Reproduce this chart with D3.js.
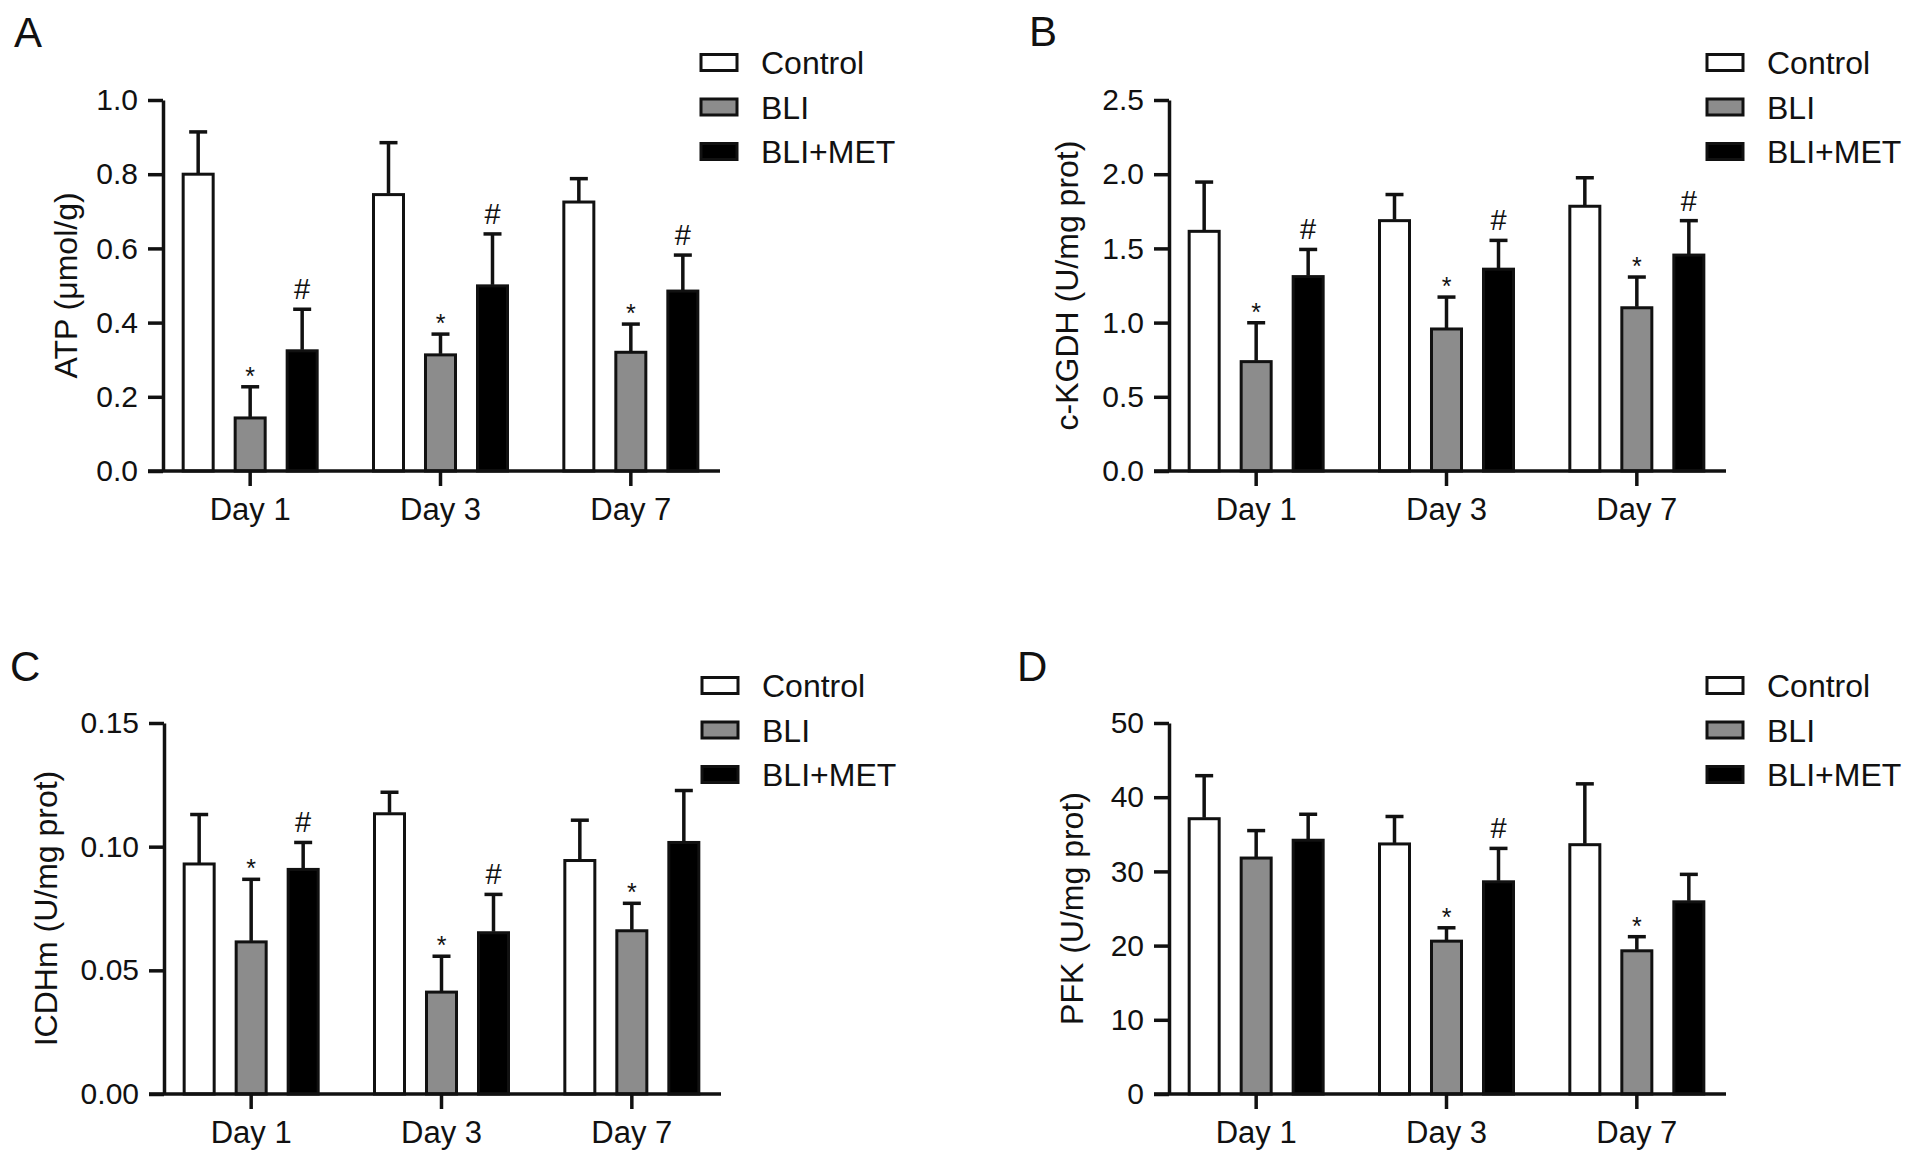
<!DOCTYPE html>
<html>
<head>
<meta charset="utf-8">
<script src="https://cdn.jsdelivr.net/npm/d3@7"></script>
<style>
  body { margin: 0; background: #fff; }
  svg text { font-family: "Liberation Sans", Arial, Helvetica, sans-serif; fill: #111; }
</style>
</head>
<body>
<div class="canvas"></div>
<script>
// categories
const days = ['Day 1', 'Day 3', 'Day 7'];
const groups = ['Control', 'BLI', 'BLI+MET'];
const fills = ['#ffffff', '#8c8c8c', '#000000'];

// A - ATP (rows: Control, BLI, BLI+MET ; cols: day 1, 3, 7)
const atpMeans = [[0.80, 0.745, 0.725], [0.143, 0.313, 0.32], [0.324, 0.499, 0.485]];
const atpErrs = [[0.114, 0.14, 0.063], [0.084, 0.056, 0.076], [0.112, 0.14, 0.097]];
const atpMarks = [['', '', ''], ['*', '*', '*'], ['#', '#', '#']];
const atpTicks = [0, 0.2, 0.4, 0.6, 0.8, 1.0];

// B - c-KGDH
const kgdhMeans = [[1.615, 1.687, 1.784], [0.737, 0.957, 1.10], [1.31, 1.36, 1.455]];
const kgdhErrs = [[0.332, 0.176, 0.192], [0.262, 0.215, 0.207], [0.183, 0.194, 0.232]];
const kgdhMarks = [['', '', ''], ['*', '*', '*'], ['#', '#', '#']];
const kgdhTicks = [0, 0.5, 1.0, 1.5, 2.0, 2.5];

// C - ICDHm
const icdhMeans = [[0.093, 0.1133, 0.0944], [0.0615, 0.0412, 0.066], [0.0908, 0.0652, 0.1017]];
const icdhErrs = [[0.020, 0.0087, 0.0163], [0.0253, 0.0145, 0.0111], [0.0109, 0.0155, 0.021]];
const icdhMarks = [['', '', ''], ['*', '*', '*'], ['#', '#', '']];
const icdhTicks = [0, 0.05, 0.10, 0.15];

// D - PFK
const pfkMeans = [[37.1, 33.7, 33.6], [31.8, 20.6, 19.3], [34.2, 28.6, 25.9]];
const pfkErrs = [[5.8, 3.7, 8.2], [3.7, 1.8, 1.9], [3.5, 4.5, 3.7]];
const pfkMarks = [['', '', ''], ['', '*', '*'], ['', '#', '']];
const pfkTicks = [0, 10, 20, 30, 40, 50];

const plotH = 371;

const svg = d3.select('.canvas')
    .append('svg')
    .attr('width', 1913)
    .attr('height', 1162);

const drawPanel = (p) => {

    const g = svg.append('g')
        .attr('transform', `translate(${p.ox}, ${p.oy})`);

    const y = d3.scaleLinear()
        .domain([0, p.ticks[p.ticks.length - 1]])
        .range([plotH, 0]);

    // outer band = day groups, inner band = series inside a group
    const x0 = d3.scaleBand().domain(days).range([-8, 563]);
    const x1 = d3.scaleBand().domain(groups).range([-78, 78])
        .paddingInner(0.423).paddingOuter(0.2115);
    const cx = (di, gi) => x0(days[di]) + x0.bandwidth() / 2 + x1(groups[gi]) + x1.bandwidth() / 2;

    // panel letter
    svg.append('text')
        .attr('x', p.lx).attr('y', p.ly)
        .attr('font-size', 42)
        .text(p.letter);

    // y axis
    const yAxis = g.append('g')
        .call(d3.axisLeft(y)
            .tickValues(p.ticks)
            .tickFormat(d3.format(p.fmt))
            .tickSize(15)
            .tickSizeOuter(0)
            .tickPadding(10));
    yAxis.selectAll('path, line').attr('stroke', '#111').attr('stroke-width', 3.5);
    yAxis.selectAll('text').attr('font-size', 30).attr('fill', '#111')
        .attr('font-family', '"Liberation Sans", Arial, sans-serif');

    g.append('text')
        .attr('transform', `translate(${-p.labelOff}, ${plotH / 2}) rotate(-90)`)
        .attr('text-anchor', 'middle')
        .attr('dominant-baseline', 'central')
        .attr('font-size', 32)
        .text(p.yLabel);

    // bars
    const flat = [];
    p.means.forEach((row, gi) => row.forEach((v, di) => {
        flat.push({ gi, di, v, e: p.errs[gi][di], m: p.marks[gi][di] });
    }));

    g.selectAll('rect.bar')
        .data(flat)
        .enter()
        .append('rect')
        .attr('class', 'bar')
        .attr('x', d => cx(d.di, d.gi) - x1.bandwidth() / 2)
        .attr('y', d => y(d.v))
        .attr('width', x1.bandwidth())
        .attr('height', d => plotH - y(d.v))
        .attr('fill', d => fills[d.gi])
        .attr('stroke', '#111')
        .attr('stroke-width', 3);

    // error bars (upper half only)
    const err = g.selectAll('g.err')
        .data(flat)
        .enter()
        .append('g')
        .attr('class', 'err')
        .attr('stroke', '#111')
        .attr('stroke-width', 3.5);
    err.append('line')
        .attr('x1', d => cx(d.di, d.gi)).attr('x2', d => cx(d.di, d.gi))
        .attr('y1', d => y(d.v) - 1).attr('y2', d => y(d.v + d.e));
    err.append('line')
        .attr('x1', d => cx(d.di, d.gi) - 9).attr('x2', d => cx(d.di, d.gi) + 9)
        .attr('y1', d => y(d.v + d.e)).attr('y2', d => y(d.v + d.e));

    // significance marks
    g.selectAll('text.mark')
        .data(flat.filter(d => d.m !== ''))
        .enter()
        .append('text')
        .attr('class', 'mark')
        .attr('x', d => cx(d.di, d.gi))
        .attr('y', d => y(d.v + d.e) - (d.m === '#' ? 10 : 2))
        .attr('text-anchor', 'middle')
        .attr('font-size', d => d.m === '#' ? 29 : 25)
        .text(d => d.m);

    // x axis
    const xAxis = g.append('g')
        .attr('transform', `translate(0, ${plotH})`)
        .call(d3.axisBottom(x0).tickSize(15).tickPadding(12));
    xAxis.select('.domain').remove();
    xAxis.selectAll('line').attr('stroke', '#111').attr('stroke-width', 3.5);
    xAxis.selectAll('text').attr('font-size', 31).attr('fill', '#111')
        .attr('font-family', '"Liberation Sans", Arial, sans-serif');
    g.append('line')
        .attr('x1', -15).attr('x2', 557)
        .attr('y1', plotH).attr('y2', plotH)
        .attr('stroke', '#111').attr('stroke-width', 3.5);

    // legend
    const leg = g.selectAll('g.leg')
        .data(groups)
        .enter()
        .append('g')
        .attr('class', 'leg')
        .attr('transform', (d, i) => `translate(538, ${-37.5 + i * 44.5})`);
    leg.append('rect')
        .attr('x', 0).attr('y', -8)
        .attr('width', 36).attr('height', 16)
        .attr('fill', (d, i) => fills[i])
        .attr('stroke', '#111').attr('stroke-width', 3);
    leg.append('text')
        .attr('x', 60).attr('y', 11.5)
        .attr('font-size', 32)
        .text(d => d);
};

drawPanel({ ox: 163, oy: 100, letter: 'A', lx: 14, ly: 47, yLabel: 'ATP (μmol/g)', labelOff: 97,
    ticks: atpTicks, fmt: '.1f', means: atpMeans, errs: atpErrs, marks: atpMarks });
drawPanel({ ox: 1169, oy: 100, letter: 'B', lx: 1029, ly: 46, yLabel: 'c-KGDH (U/mg prot)', labelOff: 102,
    ticks: kgdhTicks, fmt: '.1f', means: kgdhMeans, errs: kgdhErrs, marks: kgdhMarks });
drawPanel({ ox: 164, oy: 723, letter: 'C', lx: 10, ly: 681, yLabel: 'ICDHm (U/mg prot)', labelOff: 118,
    ticks: icdhTicks, fmt: '.2f', means: icdhMeans, errs: icdhErrs, marks: icdhMarks });
drawPanel({ ox: 1169, oy: 723, letter: 'D', lx: 1017, ly: 681, yLabel: 'PFK (U/mg prot)', labelOff: 97,
    ticks: pfkTicks, fmt: 'd', means: pfkMeans, errs: pfkErrs, marks: pfkMarks });
</script>
</body>
</html>
